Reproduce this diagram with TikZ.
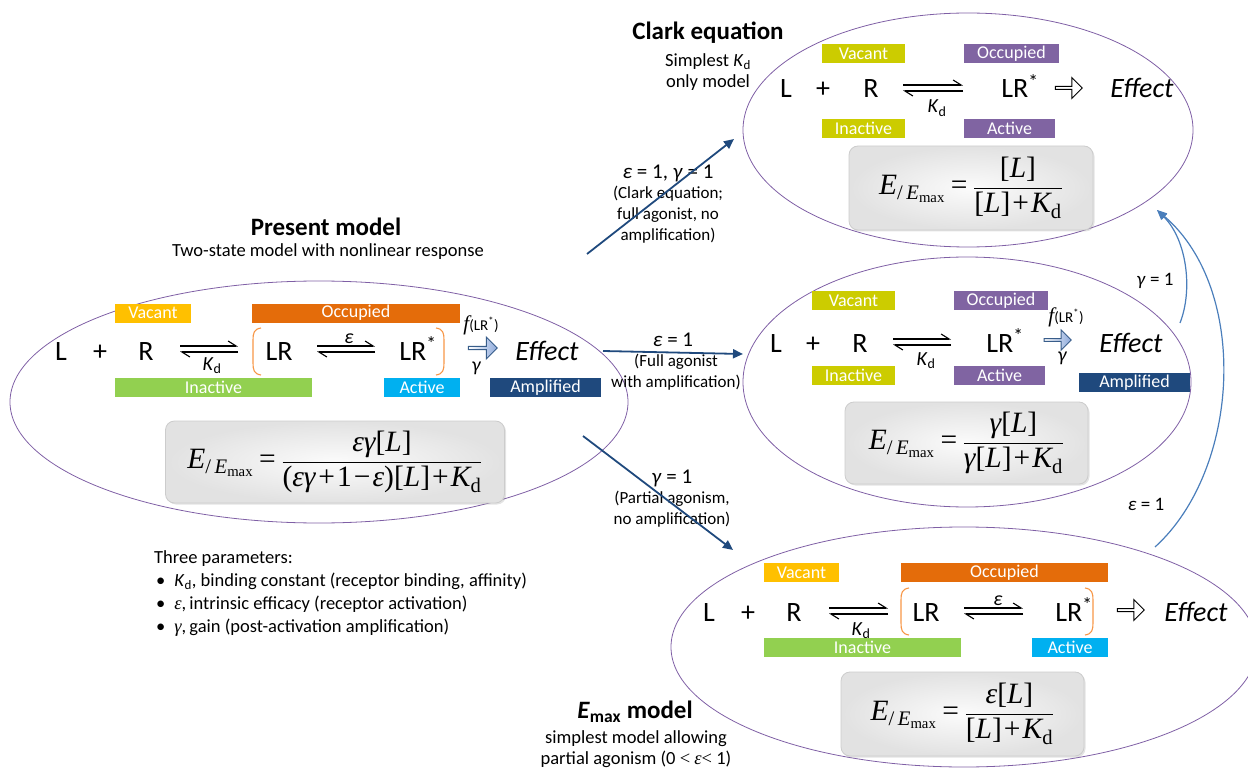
\documentclass[tikz,border=0pt]{standalone}
\usepackage{fontspec}
\usepackage{amsmath}
\setmainfont{Carlito}
\newfontfamily\tms{Liberation Serif}
\usetikzlibrary{arrows.meta,shapes.arrows,shadows}

\definecolor{cVac}{HTML}{FFC000}
\definecolor{cOcc}{HTML}{E46C0A}
\definecolor{cIna}{HTML}{92D050}
\definecolor{cAct}{HTML}{00B0F0}
\definecolor{cAmp}{HTML}{1F497D}
\definecolor{cOli}{HTML}{CCCC00}
\definecolor{cPur}{HTML}{8064A2}
\definecolor{ellc}{HTML}{7F5FA5}
\definecolor{darkarr}{HTML}{1F497D}
\definecolor{softarr}{HTML}{4A7EBB}
\definecolor{brkc}{HTML}{F79646}
\definecolor{bluefill}{HTML}{8EAADB}
\definecolor{blueline}{HTML}{385D8A}

\newcommand{\FS}[2]{\fontsize{#1}{#2}\selectfont}
\newcommand{\TT}[1]{\text{\tms #1}}
\newcommand{\TI}[1]{\text{\tms\itshape #1}}
\newcommand{\Tp}{\mathbin{\TT{+}}}
\newcommand{\Tm}{\mathbin{\TT{−}}}
\newcommand{\Teq}{\mathrel{\TT{=}}}
\newcommand{\Elhs}{\TI{E}_{\TT{/}\,\TI{E}_{\TT{max}}}}
\newcommand{\Kd}{\TI{K}_{\TT{d}}}
\newcommand{\Lb}{\TT{[\textit{L}]}}
\newcommand{\equil}[3]{%
  \draw[harp] (#1,{#3-3}) -- (#2,{#3-3});
  \draw[harp] (#2,{#3+3}) -- (#1,{#3+3});}
\newcommand{\lbrk}[3]{% x top bottom
  \draw[brk] ({#1+8},#2) .. controls ({#1+1},{#2+1}) and (#1,{#2+5}) .. (#1,{#2+12})
    -- (#1,{#3-12}) .. controls (#1,{#3-5}) and ({#1+1},{#3-1}) .. ({#1+8},#3);}
\newcommand{\rbrk}[3]{%
  \draw[brk] ({#1-8},#2) .. controls ({#1-1},{#2+1}) and (#1,{#2+5}) .. (#1,{#2+12})
    -- (#1,{#3-12}) .. controls (#1,{#3-5}) and ({#1-1},{#3-1}) .. ({#1-8},#3);}
\newcommand{\EQ}[1]{\medmuskip=1.5mu\thickmuskip=4mu$\displaystyle #1$}

\tikzset{
  ell/.style={draw=ellc, line width=0.8pt},
  tagbox/.style={text=white, inner sep=0pt, minimum height=19pt, font=\FS{18}{18}, anchor=center},
  rxn/.style={anchor=base, inner sep=0pt, font=\FS{28}{28}},
  kdl/.style={anchor=base, inner sep=0pt, font=\FS{20}{20}},
  eqbox/.style={rounded corners=9pt, draw=gray!40, line width=0.8pt, inner color=gray!3, outer color=gray!23,
     drop shadow={opacity=0.22, shadow xshift=1.5pt, shadow yshift=-1.5pt}, inner sep=0pt, font=\FS{29.5}{29.5}},
  mainarr/.style={draw=darkarr, line width=1.8pt, -{Triangle[length=10pt,width=9pt]}},
  softa/.style={draw=softarr, line width=1.2pt, -{Triangle[length=10pt,width=8pt]}},
  harp/.style={line width=1.1pt, -{Straight Barb[left,length=8pt,width=10pt]}},
  brk/.style={draw=brkc, line width=1.1pt},
  hollow/.style={single arrow, draw=black, fill=white, line width=1pt, minimum height=27pt, minimum width=21pt, single arrow head extend=3pt, inner sep=0pt},
  bluearr/.style={single arrow, draw=blueline, left color=white, right color=bluefill, line width=1pt, minimum height=29pt, minimum width=22pt, single arrow head extend=3pt, inner sep=0pt},
  lbl/.style={align=center, inner sep=0pt, font=\FS{17}{21}},
  bigl/.style={inner sep=0pt, font=\FS{21}{21}},
  sidel/.style={inner sep=0pt, font=\FS{19}{19}},
  ttl/.style={inner sep=0pt, font=\FS{25}{25}\bfseries},
  subt/.style={align=center, inner sep=0pt, font=\FS{18.5}{21}},
  gl/.style={inner sep=0pt, font=\FS{20}{20}\itshape},
  parl/.style={anchor=base west, inner sep=0pt, font=\FS{18.5}{20}},
}

\begin{document}
\begin{tikzpicture}[x=1pt, y=-1pt]
\useasboundingbox (0,0) rectangle (1248,770);

% ================= Present model =================
\node[ttl] (pmt) at (326,227) {Present model};
\node[subt] (pms) at (328,252) {Two-state model with nonlinear response};
\draw[ell] (319,402) ellipse [x radius=309pt, y radius=121pt];
\node[tagbox, fill=cVac, minimum width=76pt] (pvac) at (153,313) {Vacant};
\node[tagbox, fill=cOcc, minimum width=208pt] (pocc) at (356,313) {Occupied};
\node[tagbox, fill=cIna, minimum width=197pt] (pina) at (213.5,387.5) {Inactive};
\node[tagbox, fill=cAct, minimum width=76pt] (pact) at (422,387.5) {Active};
\node[tagbox, fill=cAmp, minimum width=111pt] (pamp) at (545.5,387.5) {Amplified};
\node[rxn] (pL) at (61,360) {L};
\node[rxn] (pplus) at (100,360) {+};
\node[rxn] (pR) at (146,360) {R};
\equil{180}{238}{349}
\node[kdl] (pkd) at (212,370) {\textit{K}\textsubscript{d}};
\lbrk{253}{328}{375}
\node[rxn] (pLR) at (279,360) {LR};
\equil{317}{375}{349}
\node[kdl, anchor=base] (peps) at (349,343) {\textit{ε}};
\node[rxn] (pLRs) at (418,360) {LR\textsuperscript{*}};
\rbrk{444}{328}{375}
\node[inner sep=0pt] (pf) at (481,325) {{\tms\itshape\FS{21}{21}f}{\FS{15}{15}(LR\textsuperscript{*})}};
\node[bluearr] (pba) at (482,348) {};
\node[gl] (pg) at (476,368) {γ};
\node[rxn, font=\FS{28}{28}\itshape] (peff) at (547,360) {Effect};
\node[eqbox, minimum width=339pt, minimum height=82pt] (peq) at (335,462)
  {\EQ{\Elhs \Teq \frac{\TI{εγ}\Lb}{\TT{(\textit{εγ}}\Tp\TT{1}\Tm\TT{\textit{ε})[\textit{L}]}\Tp\Kd}}};

% ================= Clark equation =================
\node[ttl] (cet) at (708,33) {Clark equation};
\node[subt] (ces) at (708,72) {Simplest \textit{K}\textsubscript{d}\\only model};
\draw[ell] (968,130) ellipse [x radius=225pt, y radius=117pt];
\node[tagbox, fill=cOli, minimum width=83pt] (cvac) at (863.5,53.5) {Vacant};
\node[tagbox, fill=cPur, minimum width=95pt] (cocc) at (1011.5,53.5) {Occupied};
\node[tagbox, fill=cOli, minimum width=83pt] (cina) at (863.5,128.5) {Inactive};
\node[tagbox, fill=cPur, minimum width=91pt] (cact) at (1009.5,128.5) {Active};
\node[rxn] (cL) at (786,98) {L};
\node[rxn] (cplus) at (823,98) {+};
\node[rxn] (cR) at (871,98) {R};
\equil{903}{963}{88}
\node[kdl] (ckd) at (937,113) {\textit{K}\textsubscript{d}};
\node[rxn] (cLRs) at (1020,98) {LR\textsuperscript{*}};
\node[hollow] (cha) at (1068,88) {};
\node[rxn, font=\FS{28}{28}\itshape] (ceff) at (1142,98) {Effect};
\node[eqbox, minimum width=244pt, minimum height=84pt] (ceq) at (971,188)
  {\EQ{\Elhs \Teq \frac{\Lb}{\Lb\Tp\Kd}}};

% ================= Middle model =================
\draw[ell] (967,382) ellipse [x radius=224pt, y radius=125pt];
\node[tagbox, fill=cOli, minimum width=83pt] (mvac) at (853.5,300.5) {Vacant};
\node[tagbox, fill=cPur, minimum width=94pt] (mocc) at (1001,300.5) {Occupied};
\node[tagbox, fill=cOli, minimum width=83pt] (mina) at (853.5,375.5) {Inactive};
\node[tagbox, fill=cPur, minimum width=91pt] (mact) at (999.5,375.5) {Active};
\node[tagbox, fill=cAmp, minimum width=111pt] (mamp) at (1134.5,382.5) {Amplified};
\node[rxn] (mL) at (776,352) {L};
\node[rxn] (mplus) at (813,352) {+};
\node[rxn] (mR) at (860,352) {R};
\equil{893}{951}{342}
\node[kdl] (mkd) at (926,365) {\textit{K}\textsubscript{d}};
\node[rxn] (mLRs) at (1005,352) {LR\textsuperscript{*}};
\node[inner sep=0pt] (mf) at (1066,317) {{\tms\itshape\FS{21}{21}f}{\FS{15}{15}(LR\textsuperscript{*})}};
\node[bluearr, minimum height=27pt, minimum width=20pt] (mba) at (1057,340) {};
\node[gl] (mg) at (1062,358) {γ};
\node[rxn, font=\FS{28}{28}\itshape] (meff) at (1131,352) {Effect};
\node[eqbox, minimum width=243pt, minimum height=82pt] (meq) at (966.5,443)
  {\EQ{\Elhs \Teq \frac{\TI{γ}\Lb}{\TI{γ}\Lb\Tp\Kd}}};

% ================= Emax model =================
\draw[ell] (964,647) ellipse [x radius=293pt, y radius=120pt];
\node[tagbox, fill=cVac, minimum width=75pt] (evac) at (801.5,572.5) {Vacant};
\node[tagbox, fill=cOcc, minimum width=207pt] (eocc) at (1004.5,572.5) {Occupied};
\node[tagbox, fill=cIna, minimum width=197pt] (eina) at (862.5,647.5) {Inactive};
\node[tagbox, fill=cAct, minimum width=76pt] (eact) at (1070,647.5) {Active};
\node[rxn] (eL) at (709,621) {L};
\node[rxn] (eplus) at (748,621) {+};
\node[rxn] (eR) at (794,621) {R};
\equil{829}{888}{611}
\node[kdl] (ekd) at (861,635) {\textit{K}\textsubscript{d}};
\lbrk{901}{588}{635}
\node[rxn] (eLR) at (926,621) {LR};
\equil{964}{1023}{611}
\node[kdl, anchor=base] (eeps) at (998,605) {\textit{ε}};
\node[rxn] (eLRs) at (1074,621) {LR\textsuperscript{*}};
\rbrk{1093}{588}{635}
\node[hollow] (eha) at (1130,610) {};
\node[rxn, font=\FS{28}{28}\itshape] (eeff) at (1196,621) {Effect};
\node[eqbox, minimum width=243pt, minimum height=84pt] (eeq) at (962.5,714)
  {\EQ{\Elhs \Teq \frac{\TI{ε}\Lb}{\Lb\Tp\Kd}}};
\node[ttl] (emt) at (635,712) {\textit{E}\textsubscript{max} model};
\node[subt] (ems) at (636,749) {simplest model allowing\\partial agonism (0 {\tms<} {\tms\itshape ε}{\tms<} 1)};

% ================= Parameters =================
\node[parl] (par0) at (154,563) {Three parameters:};
\node[parl] (par1) at (156,586) {•\hspace{9pt}\textit{K}\textsubscript{d}, binding constant (receptor binding, affinity)};
\node[parl] (par2) at (156,609) {•\hspace{9pt}{\tms\itshape ε},\,intrinsic efficacy (receptor activation)};
\node[parl] (par3) at (156,632) {•\hspace{9pt}{\tms\itshape γ},\,gain (post-activation amplification)};

% ================= Transition labels =================
\node[bigl] (l1a) at (668,173) {\textit{ε} = 1, \textit{γ} = 1};
\node[lbl] (l1b) at (668,215) {(Clark equation;\\full agonist, no\\amplification)};
\node[bigl] (l2a) at (673,340) {\textit{ε} = 1};
\node[lbl] (l2b) at (676,372) {(Full agonist\\with amplification)};
\node[bigl] (l3a) at (672,478) {\textit{γ} = 1};
\node[lbl] (l3b) at (672,509) {(Partial agonism,\\no amplification)};
\node[sidel] (l4) at (1155,281) {\textit{γ} = 1};
\node[sidel] (l5) at (1146,504) {\textit{ε} = 1};

% ================= Connectors =================
\coordinate (a1s) at (587,254);
\coordinate (a1e) at (734,139);
\coordinate (a2s) at (603,351);
\coordinate (a2e) at (743,354);
\coordinate (a3s) at (583,436);
\coordinate (a3e) at (733,550);
\coordinate (c1s) at (1180,323);
\coordinate (c2s) at (1155,547);
\coordinate (ctip) at (1157,210);
\draw[mainarr] (a1s) -- (a1e);
\draw[mainarr] (a2s) -- (a2e);
\draw[mainarr] (a3s) -- (a3e);
\draw[softa] (c1s) .. controls (1193,290) and (1187,240) .. (ctip);
\draw[softa] (c2s) .. controls (1240,470) and (1250,290) .. (ctip);
\end{tikzpicture}
\end{document}
